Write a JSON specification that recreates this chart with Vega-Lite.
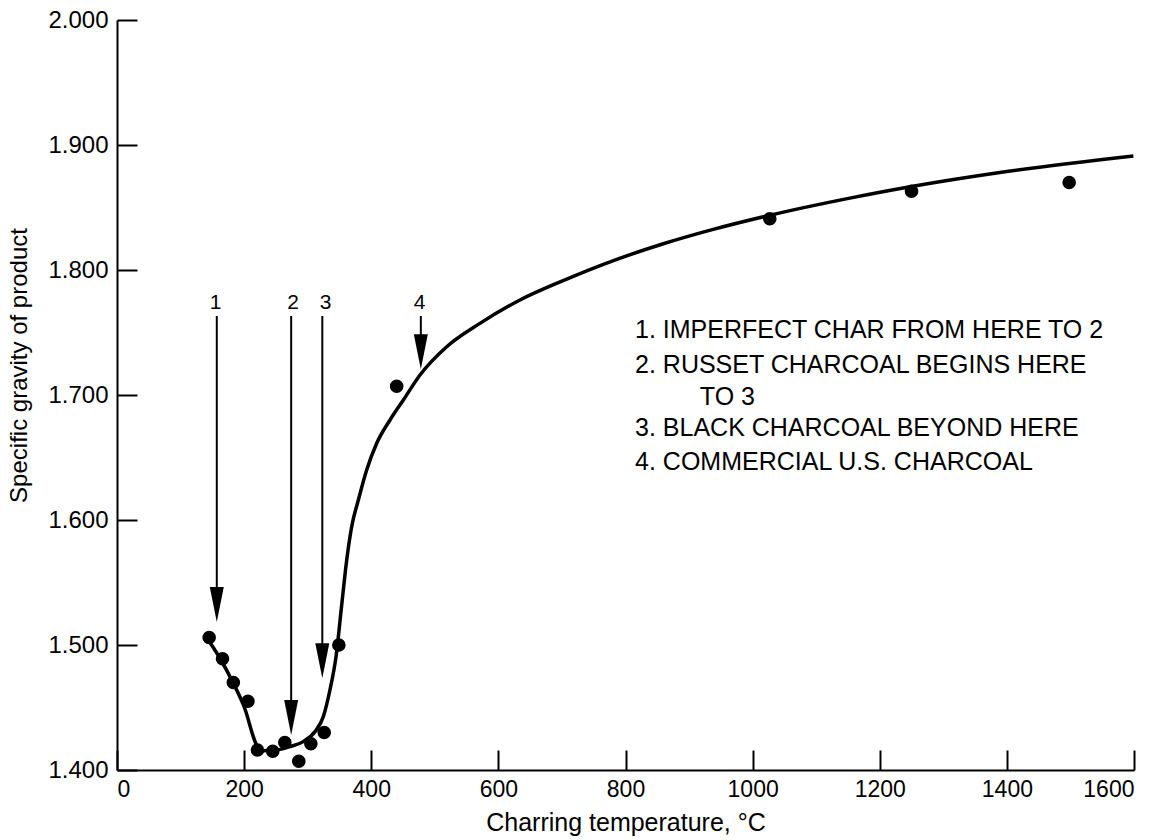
{
  "$schema": "https://vega.github.io/schema/vega-lite/v6.json",
  "width": 1017,
  "height": 750,
  "autosize": "none",
  "padding": {"left": 117, "top": 20, "right": 35, "bottom": 70},
  "background": "white",
  "config": {
    "view": {"stroke": null},
    "font": "Liberation Sans",
    "axis": {
      "domainColor": "black", "domainWidth": 2, "tickColor": "black", "tickWidth": 2,
      "labelColor": "black", "titleColor": "black", "labelFont": "Liberation Sans", "titleFont": "Liberation Sans",
      "labelFontSize": 23, "titleFontSize": 24, "titleFontWeight": "normal", "grid": false
    }
  },
  "datasets": {
    "curve": [
      {"t": 143.6, "sg": 1.504}, {"t": 162, "sg": 1.4894}, {"t": 183, "sg": 1.4694}, {"t": 200, "sg": 1.4507},
      {"t": 221, "sg": 1.4187}, {"t": 230, "sg": 1.4155}, {"t": 251, "sg": 1.416}, {"t": 272, "sg": 1.4187},
      {"t": 293, "sg": 1.4227}, {"t": 311.5, "sg": 1.4307}, {"t": 324.6, "sg": 1.4427}, {"t": 335, "sg": 1.464},
      {"t": 344.6, "sg": 1.4907}, {"t": 353.5, "sg": 1.532}, {"t": 361.4, "sg": 1.568}, {"t": 369.2, "sg": 1.5946},
      {"t": 379.7, "sg": 1.616}, {"t": 392.8, "sg": 1.64}, {"t": 408.6, "sg": 1.6614}, {"t": 429.5, "sg": 1.68},
      {"t": 450.5, "sg": 1.696}, {"t": 476.7, "sg": 1.716}, {"t": 518.7, "sg": 1.7386}, {"t": 571, "sg": 1.7573},
      {"t": 634, "sg": 1.776}, {"t": 702, "sg": 1.7915}, {"t": 781, "sg": 1.8075}, {"t": 859.5, "sg": 1.821},
      {"t": 938, "sg": 1.8325}, {"t": 1027, "sg": 1.8438}, {"t": 1153, "sg": 1.8575}, {"t": 1250, "sg": 1.8668},
      {"t": 1389, "sg": 1.878}, {"t": 1599, "sg": 1.8912}
    ],
    "points": [
      {"t": 145, "sg": 1.506}, {"t": 166, "sg": 1.489}, {"t": 183, "sg": 1.470}, {"t": 206, "sg": 1.455},
      {"t": 221, "sg": 1.416}, {"t": 245, "sg": 1.415}, {"t": 264, "sg": 1.422}, {"t": 286, "sg": 1.407},
      {"t": 305, "sg": 1.421}, {"t": 326, "sg": 1.430}, {"t": 349, "sg": 1.500}, {"t": 440, "sg": 1.707},
      {"t": 1027, "sg": 1.841}, {"t": 1250, "sg": 1.863}, {"t": 1498, "sg": 1.870}
    ],
    "arrows": [
      {"t": 157, "top": 1.7632, "head": 1.5324, "label": "1", "lt": 155},
      {"t": 274, "top": 1.7632, "head": 1.442, "label": "2", "lt": 277},
      {"t": 323, "top": 1.7632, "head": 1.4874, "label": "3", "lt": 328},
      {"t": 478, "top": 1.7632, "head": 1.7346, "label": "4", "lt": 476}
    ],
    "notes": [
      {"t": 815, "sg": 1.752, "text": "1. IMPERFECT CHAR FROM HERE TO 2"},
      {"t": 815, "sg": 1.724, "text": "2. RUSSET CHARCOAL BEGINS HERE"},
      {"t": 917, "sg": 1.6986, "text": "TO 3"},
      {"t": 815, "sg": 1.6734, "text": "3. BLACK CHARCOAL BEYOND HERE"},
      {"t": 815, "sg": 1.6466, "text": "4. COMMERCIAL U.S. CHARCOAL"}
    ]
  },
  "layer": [
    {
      "data": {"name": "curve"},
      "mark": {"type": "line", "color": "black", "strokeWidth": 3.5, "interpolate": "monotone"},
      "encoding": {
        "x": {"field": "t", "type": "quantitative",
          "scale": {"domain": [0, 1600], "nice": false, "zero": false},
          "axis": {"values": [0, 200, 400, 600, 800, 1000, 1200, 1400, 1600], "format": "d", "tickSize": -20, "labelPadding": 28,
            "title": "Charring temperature, °C", "titleFontSize": 25, "titlePadding": 9}},
        "y": {"field": "sg", "type": "quantitative",
          "scale": {"domain": [1.4, 2.0], "nice": false, "zero": false},
          "axis": {"values": [1.4, 1.5, 1.6, 1.7, 1.8, 1.9, 2.0], "format": ".3f", "tickSize": -20, "labelPadding": 29,
            "labelFontSize": 24,
            "title": "Specific gravity of product", "titleX": -86, "titleY": 345, "titleAlign": "center", "titleBaseline": "bottom", "titleAngle": -90}}
      }
    },
    {
      "data": {"name": "points"},
      "mark": {"type": "circle", "color": "black", "opacity": 1, "size": 185},
      "encoding": {
        "x": {"field": "t", "type": "quantitative"},
        "y": {"field": "sg", "type": "quantitative"}
      }
    },
    {
      "data": {"name": "arrows"},
      "mark": {"type": "rule", "color": "black", "strokeWidth": 2},
      "encoding": {
        "x": {"field": "t", "type": "quantitative"},
        "y": {"field": "top", "type": "quantitative"},
        "y2": {"field": "head"}
      }
    },
    {
      "data": {"name": "arrows"},
      "mark": {"type": "point", "shape": "M-0.4,-1L0.4,-1L0,1Z", "filled": true, "color": "black", "opacity": 1, "size": 1225, "strokeWidth": 0},
      "encoding": {
        "x": {"field": "t", "type": "quantitative"},
        "y": {"field": "head", "type": "quantitative"}
      }
    },
    {
      "data": {"name": "arrows"},
      "mark": {"type": "text", "color": "black", "fontSize": 21, "baseline": "bottom", "align": "center", "dy": -3},
      "encoding": {
        "x": {"field": "lt", "type": "quantitative"},
        "y": {"field": "top", "type": "quantitative"},
        "text": {"field": "label"}
      }
    },
    {
      "data": {"name": "notes"},
      "mark": {"type": "text", "color": "black", "fontSize": 25, "baseline": "middle", "align": "left"},
      "encoding": {
        "x": {"field": "t", "type": "quantitative"},
        "y": {"field": "sg", "type": "quantitative"},
        "text": {"field": "text"}
      }
    }
  ]
}
